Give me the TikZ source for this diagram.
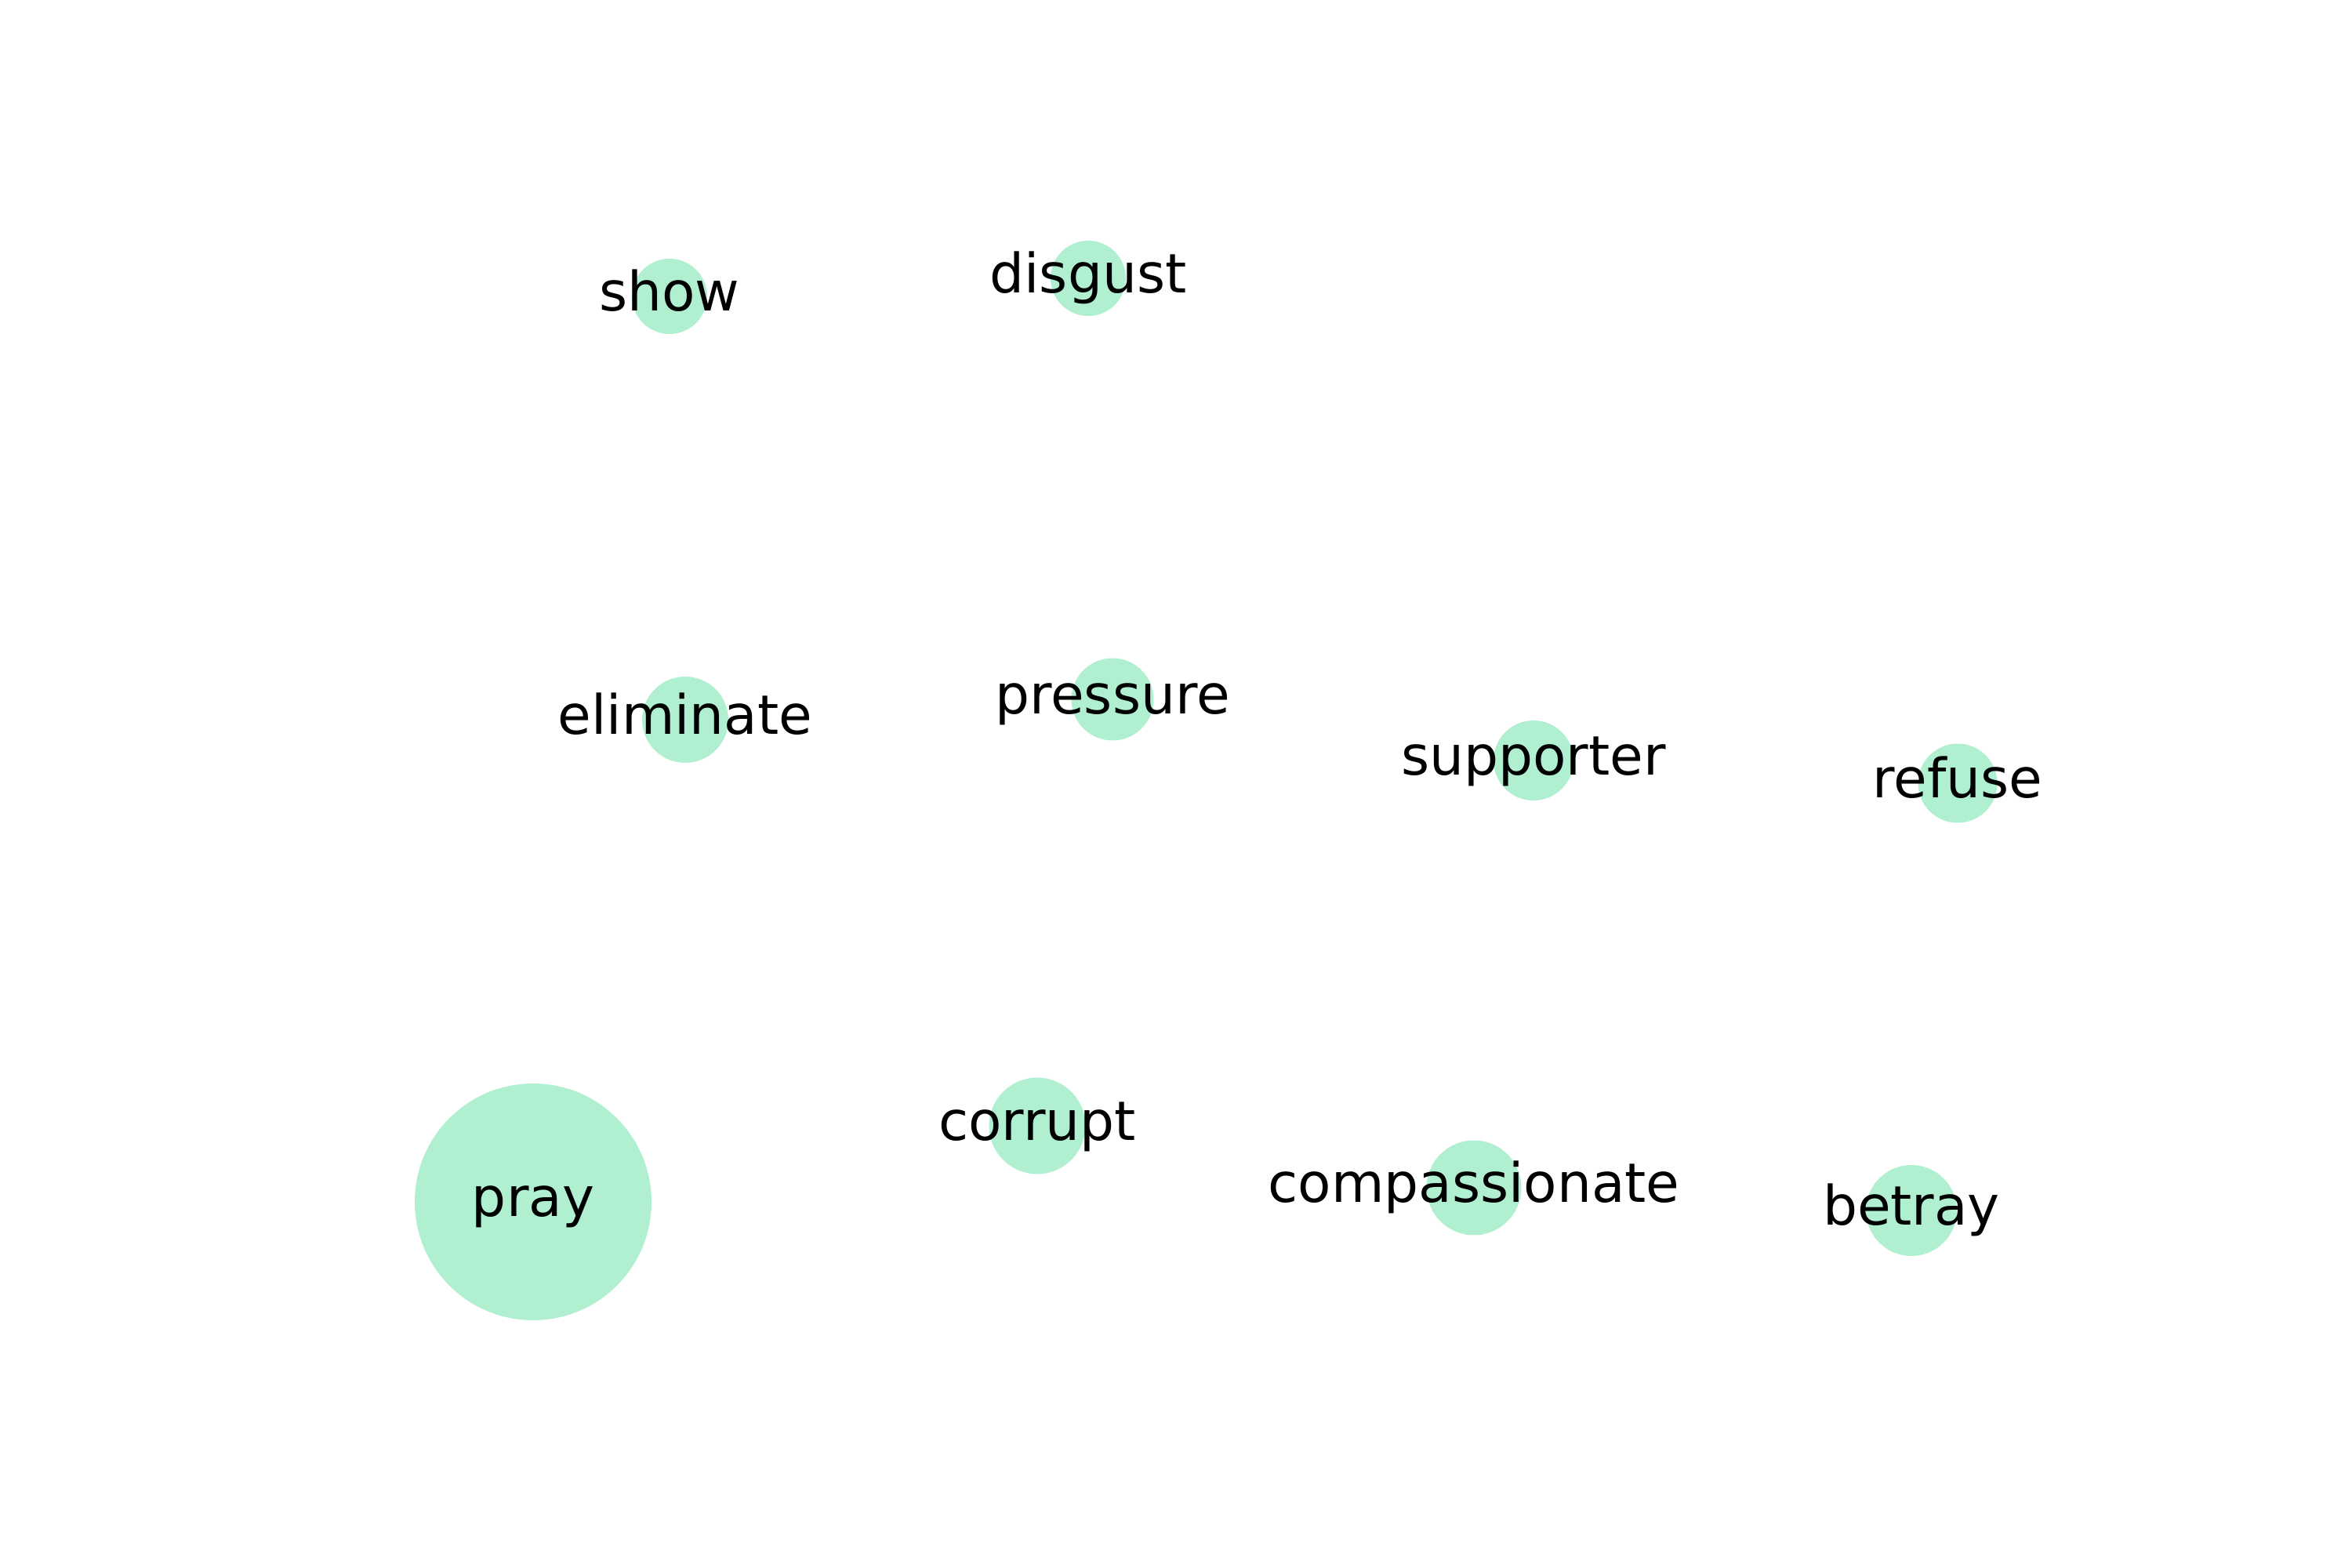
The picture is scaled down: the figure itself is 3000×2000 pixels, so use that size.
\documentclass[tikz,border=0pt]{standalone}
\usepackage{fontspec}
\setmainfont{DejaVu Sans}
\definecolor{mMint}{HTML}{B0F0D0}
\tikzset{
  wnode/.style={circle, fill=mMint, inner sep=0pt, minimum size=#1},
  wlabel/.style={inner sep=0pt, font=\fontsize{16.7}{20}\selectfont,
                 text height=12.69pt, text depth=3.94pt},
}
\begin{document}
\begin{tikzpicture}[x=0.084667mm, y=-0.084667mm]
    \useasboundingbox (0,0) rectangle (3000,2000);
    \node[wnode=8.13mm]  (show)  at (854,378)   {};
    \node[wnode=8.13mm]  (disg)  at (1388,355)  {};
    \node[wnode=9.31mm]  (elim)  at (874,918)   {};
    \node[wnode=8.89mm]  (press) at (1419,892)  {};
    \node[wnode=8.64mm]  (supp)  at (1956,970)  {};
    \node[wnode=8.55mm]  (ref)   at (2497,999)  {};
    \node[wnode=25.57mm] (pray)  at (680,1533)  {};
    \node[wnode=10.41mm] (corr)  at (1323,1436) {};
    \node[wnode=10.24mm] (comp)  at (1880,1515) {};
    \node[wnode=9.82mm]  (betr)  at (2438,1544) {};
    \node[wlabel] (show-t)  at (show)  {show};
    \node[wlabel] (disg-t)  at (disg)  {disgust};
    \node[wlabel] (elim-t)  at (elim)  {eliminate};
    \node[wlabel] (press-t) at (press) {pressure};
    \node[wlabel] (supp-t)  at (supp)  {supporter};
    \node[wlabel] (ref-t)   at (ref)   {refuse};
    \node[wlabel] (pray-t)  at (pray)  {pray};
    \node[wlabel] (corr-t)  at (corr)  {corrupt};
    \node[wlabel] (comp-t)  at (comp)  {compassionate};
    \node[wlabel] (betr-t)  at (betr)  {betray};
  \end{tikzpicture}
\end{document}
